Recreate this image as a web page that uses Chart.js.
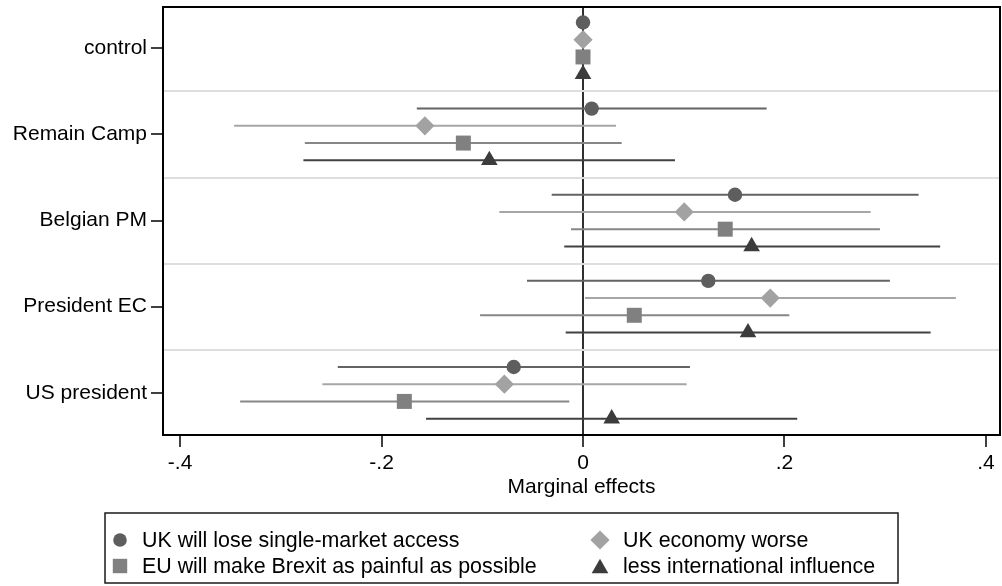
<!DOCTYPE html>
<html>
<head>
<meta charset="utf-8">
<title>Marginal effects</title>
<script src="https://cdn.jsdelivr.net/npm/chart.js@4/dist/chart.umd.min.js"></script>
<style>
  html, body { margin: 0; padding: 0; background: #fff; }
  #wrap { width: 1002px; height: 586px; position: relative; }
  canvas { display: block; }
</style>
</head>
<body>
<div id="wrap"><canvas id="chart" width="1002" height="586"></canvas></div>
<script>
// ---- data ----
const categories = ['control', 'Remain Camp', 'Belgian PM', 'President EC', 'US president'];

const seriesNames = [
  'UK will lose single-market access',
  'UK economy worse',
  'EU will make Brexit as painful as possible',
  'less international influence'
];

// point estimates and 95% confidence bounds, one entry per category
const accessEst = [0, 0.0086, 0.1509, 0.1244, -0.0688];
const accessLo  = [null, -0.1650, -0.0311, -0.0556, -0.2435];
const accessHi  = [null, 0.1823, 0.3332, 0.3047, 0.1062];

const economyEst = [0, -0.1570, 0.1005, 0.1859, -0.0781];
const economyLo  = [null, -0.3464, -0.0831, 0.0020, -0.2588];
const economyHi  = [null, 0.0328, 0.2856, 0.3702, 0.1029];

const painfulEst = [0, -0.1188, 0.1412, 0.0509, -0.1774];
const painfulLo  = [null, -0.2762, -0.0119, -0.1022, -0.3404];
const painfulHi  = [null, 0.0384, 0.2948, 0.2048, -0.0136];

const influenceEst = [0, -0.0930, 0.1674, 0.1638, 0.0285];
const influenceLo  = [null, -0.2776, -0.0186, -0.0172, -0.1558];
const influenceHi  = [null, 0.0913, 0.3546, 0.3451, 0.2127];

const xTickValues = [-0.4, -0.2, 0, 0.2, 0.4];
const xTickLabels = ['-.4', '-.2', '0', '.2', '.4'];

// ---- styling ----
const FONT = '"Liberation Sans", Arial, Helvetica, sans-serif';
Chart.defaults.font.family = FONT;
Chart.defaults.color = '#000';

const series = [
  { name: seriesNames[0], est: accessEst,    lo: accessLo,    hi: accessHi,    color: '#5e5e5e', line: '#636363', style: 'circle',   radius: 7.2,  legendRadius: 6.8 },
  { name: seriesNames[1], est: economyEst,   lo: economyLo,   hi: economyHi,   color: '#a2a2a2', line: '#a6a6a6', style: 'rectRot',  radius: 9.6,  legendRadius: 9.6 },
  { name: seriesNames[2], est: painfulEst,   lo: painfulLo,   hi: painfulHi,   color: '#808080', line: '#878787', style: 'rect',     radius: 10.6, legendRadius: 10.2 },
  { name: seriesNames[3], est: influenceEst, lo: influenceLo, hi: influenceHi, color: '#3c3c3c', line: '#414141', style: 'triangle', radius: 9.6,  legendRadius: 9.6 }
];
// vertical offset of each series inside a category band
const bandOffsets = [-0.3, -0.1, 0.1, 0.3];

const datasets = [];
series.forEach((s, k) => {
  const off = bandOffsets[k];
  // confidence intervals: one segment per category, separated by gaps
  const ciPoints = [];
  categories.forEach((c, i) => {
    if (s.lo[i] === null) return;
    ciPoints.push({ x: s.lo[i], y: i + off });
    ciPoints.push({ x: s.hi[i], y: i + off });
    ciPoints.push({ x: null, y: null });
  });
  datasets.push({
    label: s.name + ' CI',
    data: ciPoints,
    showLine: true,
    spanGaps: false,
    borderColor: s.line,
    borderWidth: 2,
    pointRadius: 0,
    pointHoverRadius: 0,
    order: 3
  });
  datasets.push({
    label: s.name,
    data: categories.map((c, i) => ({ x: s.est[i], y: i + off })),
    showLine: false,
    pointStyle: s.style,
    pointRadius: s.radius,
    pointHoverRadius: s.radius,
    pointBackgroundColor: s.color,
    pointBorderWidth: 0,
    order: 1
  });
});

const yTickValues = [];
for (let v = 0; v <= categories.length - 1; v += 0.5) yTickValues.push(v);

// closed frame around the plot region
const framePlugin = {
  id: 'frame',
  afterDraw(chart) {
    const { ctx, chartArea: a } = chart;
    ctx.save();
    ctx.strokeStyle = '#000';
    ctx.lineWidth = 2;
    ctx.strokeRect(a.left, a.top, a.right - a.left, a.bottom - a.top);
    ctx.restore();
  }
};

// boxed two-column key under the axis title
const keyPlugin = {
  id: 'boxedKey',
  afterDraw(chart) {
    const { ctx } = chart;
    const box = { left: 105, top: 513, width: 793, height: 70 };
    const rows = [540, 566];
    const cols = [{ marker: 120, text: 142 }, { marker: 600, text: 623 }];
    const layout = [[0, 0], [0, 1], [1, 0], [1, 1]]; // [row, col] per series
    ctx.save();
    ctx.strokeStyle = '#1a1a1a';
    ctx.lineWidth = 1.5;
    ctx.strokeRect(box.left, box.top, box.width, box.height);
    ctx.font = '21.4px ' + FONT;
    ctx.textBaseline = 'middle';
    ctx.textAlign = 'left';
    series.forEach((s, k) => {
      const [r, c] = layout[k];
      const y = rows[r];
      const dy = s.style === 'triangle' ? s.legendRadius / 4 : 0;
      ctx.fillStyle = s.color;
      Chart.helpers.drawPoint(ctx, { pointStyle: s.style, radius: s.legendRadius, borderWidth: 0, rotation: 0 }, cols[c].marker, y + dy);
      ctx.fillStyle = '#000';
      ctx.fillText(s.name, cols[c].text, y + 1);
    });
    ctx.restore();
  }
};

new Chart(document.getElementById('chart'), {
  type: 'scatter',
  data: { datasets },
  options: {
    responsive: false,
    animation: false,
    events: [],
    layout: { autoPadding: false, padding: { top: 7, right: 2, bottom: 86, left: 0 } },
    plugins: {
      legend: { display: false },
      tooltip: { enabled: false },
      title: { display: false }
    },
    scales: {
      x: {
        type: 'linear',
        min: -0.417,
        max: 0.414,
        afterBuildTicks: s => { s.ticks = xTickValues.map(v => ({ value: v })); },
        afterFit: s => { s.height = 65; s.paddingLeft = 0; s.paddingRight = 0; },
        ticks: {
          autoSkip: false,
          maxRotation: 0,
          padding: 4,
          color: '#000',
          font: { size: 21 },
          callback: v => xTickLabels[xTickValues.indexOf(v)]
        },
        grid: {
          color: c => (c.tick && c.tick.value === 0) ? '#303030' : 'rgba(0,0,0,0)',
          lineWidth: 2,
          tickColor: '#000',
          tickWidth: 1.5,
          tickLength: 12
        },
        border: { display: false },
        title: {
          display: true,
          text: 'Marginal effects',
          color: '#000',
          font: { size: 21 },
          padding: { top: 0, bottom: 0 }
        }
      },
      y: {
        type: 'linear',
        reverse: true,
        min: -0.48,
        max: 4.49,
        afterBuildTicks: s => { s.ticks = yTickValues.map(v => ({ value: v })); },
        afterFit: s => { s.width = 163; s.paddingTop = 0; s.paddingBottom = 0; },
        ticks: {
          autoSkip: false,
          padding: 4,
          color: '#000',
          font: { size: 21 },
          callback: v => Number.isInteger(v) ? categories[v] : ''
        },
        grid: {
          color: c => (c.tick && !Number.isInteger(c.tick.value)) ? '#dedede' : 'rgba(0,0,0,0)',
          lineWidth: 2,
          tickColor: c => (c.tick && Number.isInteger(c.tick.value)) ? '#000' : 'rgba(0,0,0,0)',
          tickWidth: 1.5,
          tickLength: 12
        },
        border: { display: false }
      }
    }
  },
  plugins: [framePlugin, keyPlugin]
});
</script>
</body>
</html>
